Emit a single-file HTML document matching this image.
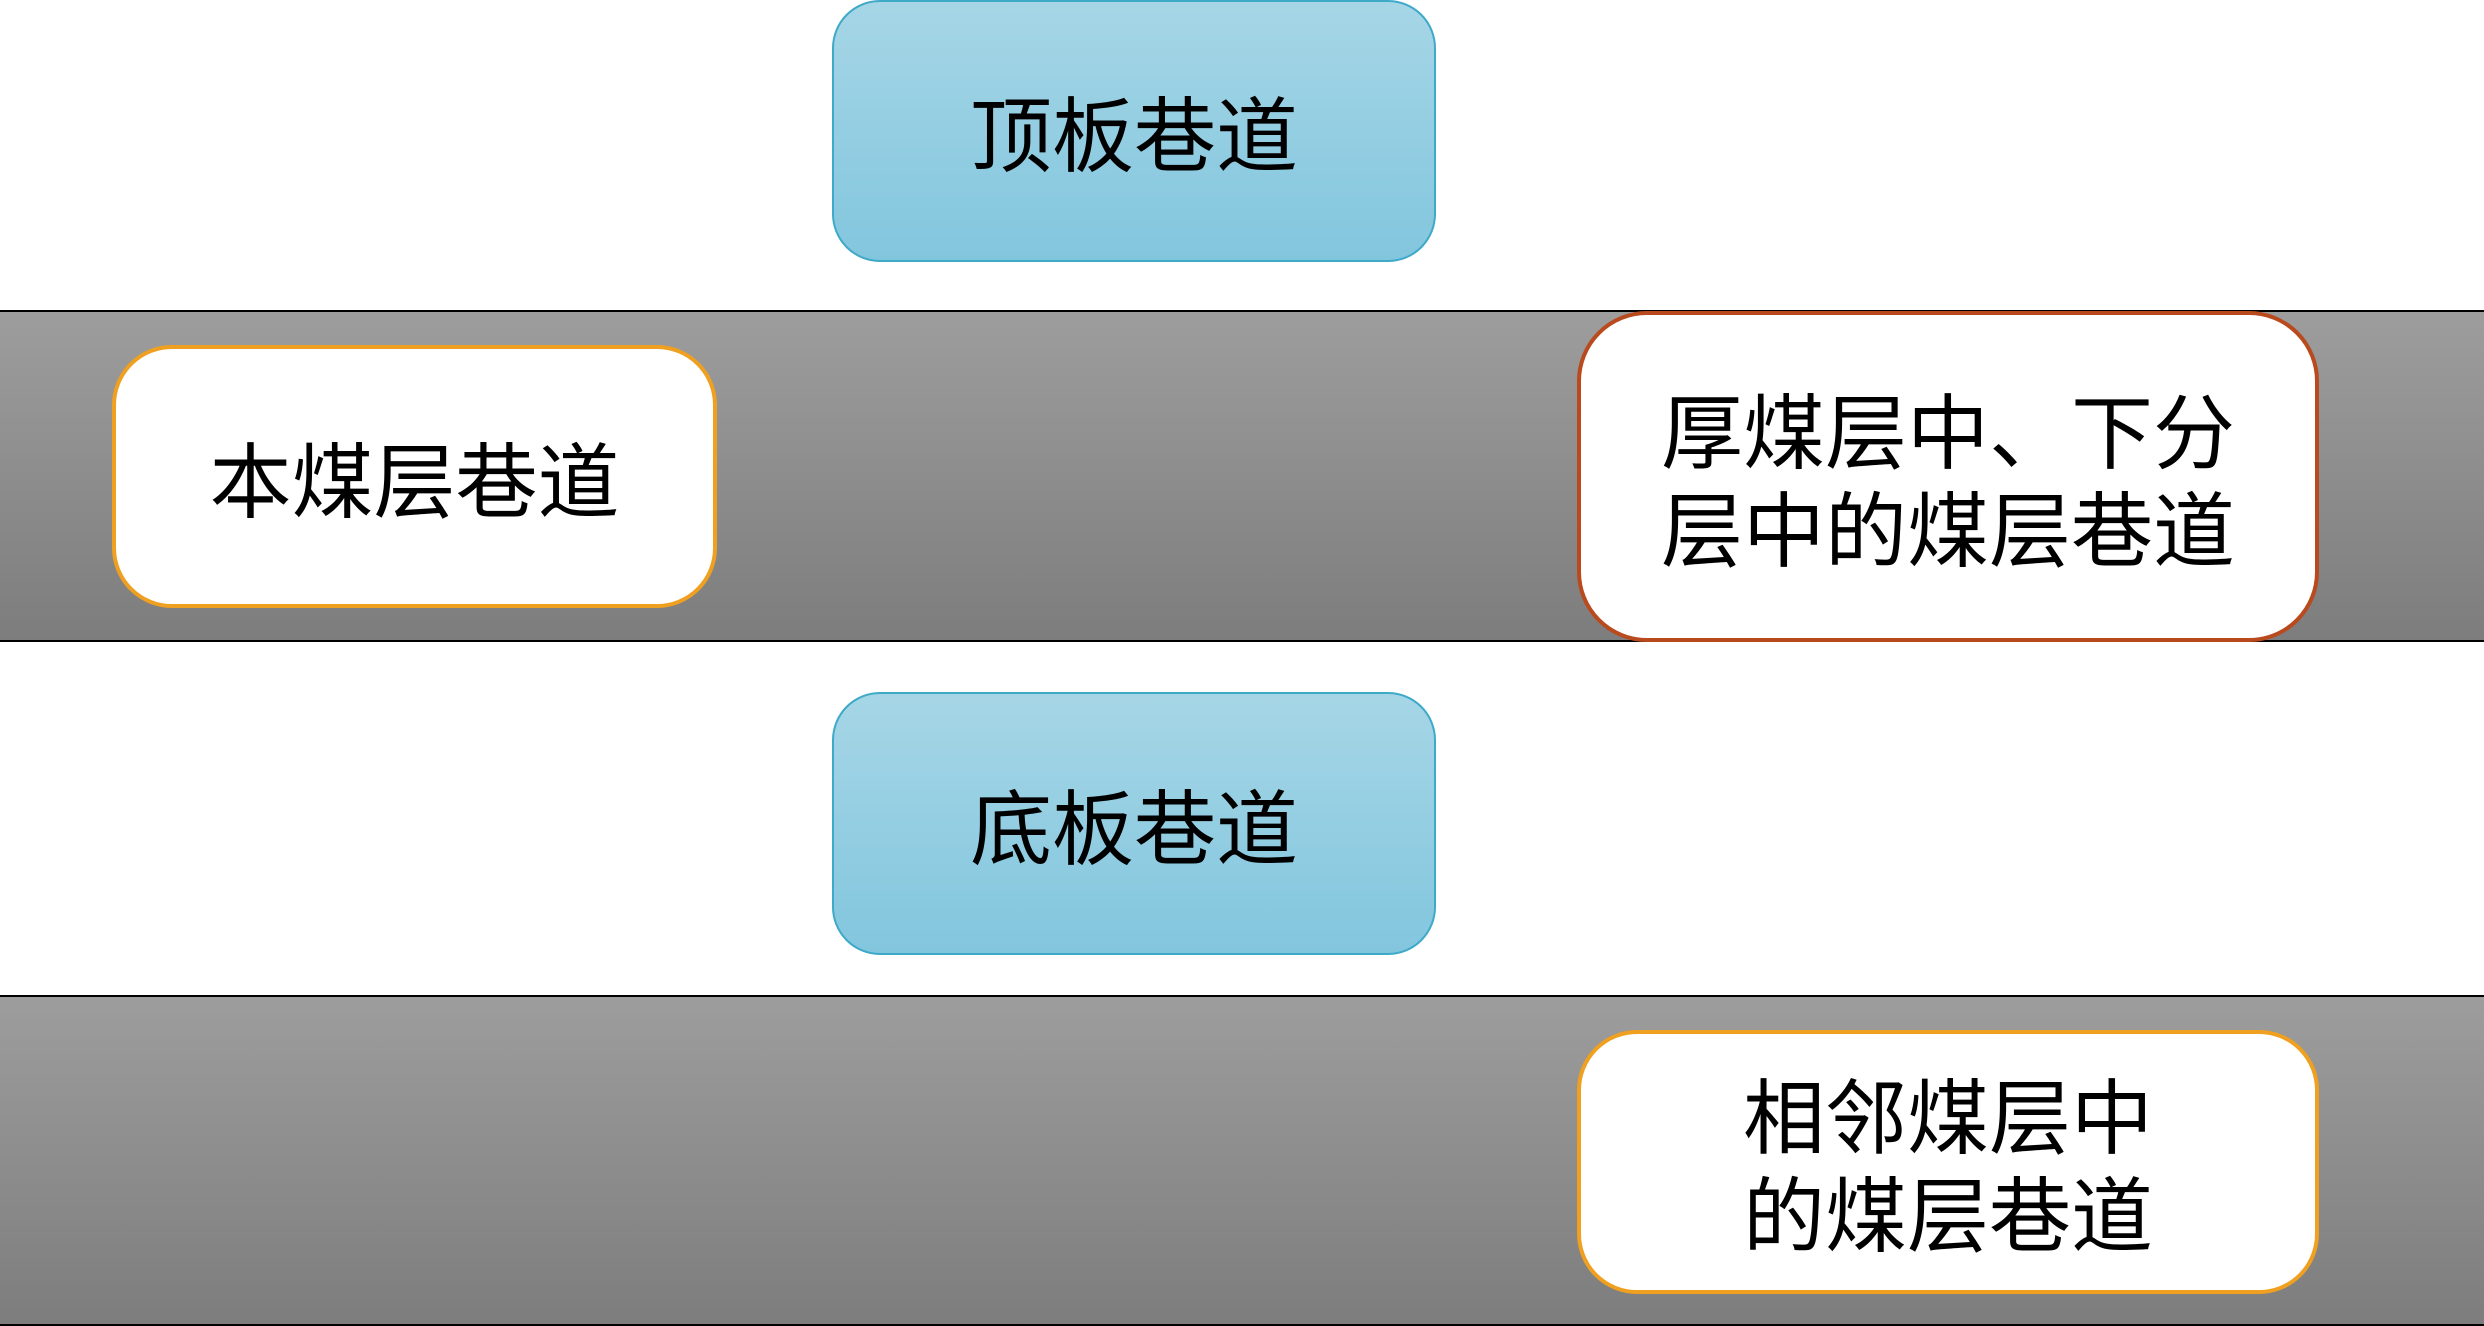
<!DOCTYPE html>
<html><head><meta charset="utf-8"><style>
html,body{margin:0;padding:0}
body{width:2484px;height:1326px;position:relative;background:#fff;overflow:hidden;font-family:"Liberation Sans","WenQuanYi Zen Hei","Noto Sans CJK SC",sans-serif}
.band{position:absolute;left:0;width:2484px;background:linear-gradient(#9d9d9d,#7d7d7d);border-top:2px solid #000;border-bottom:2px solid #000;box-sizing:border-box}
.box{position:absolute;box-sizing:border-box;display:flex;align-items:center;justify-content:center;text-align:center;font-size:82px;line-height:98px;color:#000;padding-top:14px}
.blue{background:linear-gradient(#a6d6e6,#82c6de);border:2px solid #3fa9c8;border-radius:48px}
.w{background:#fff;border:4px solid #f0a020;border-radius:60px}
.r{border-color:#b84a1e;border-radius:70px}
</style></head><body>
<div class="band" style="top:310px;height:332px"></div>
<div class="band" style="top:995px;height:331px"></div>
<div class="box blue" style="left:832px;top:0;width:604px;height:262px">顶板巷道</div>
<div class="box w" style="left:112px;top:345px;width:605px;height:263px">本煤层巷道</div>
<div class="box w r" style="left:1577px;top:311px;width:742px;height:331px">厚煤层中、下分<br>层中的煤层巷道</div>
<div class="box blue" style="left:832px;top:692px;width:604px;height:263px">底板巷道</div>
<div class="box w" style="left:1577px;top:1030px;width:742px;height:264px">相邻煤层中<br>的煤层巷道</div>
</body></html>
